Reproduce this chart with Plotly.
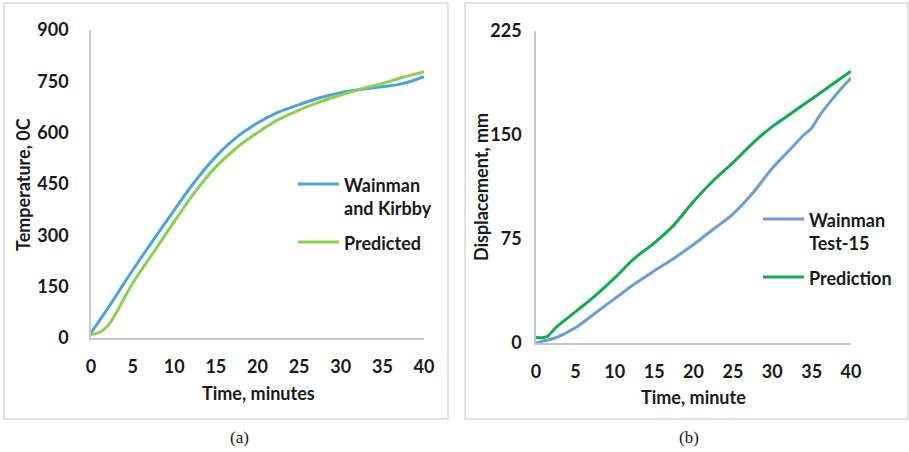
import plotly.graph_objects as go

# Panel (a): furnace/steel temperature history
time_a = [0, 1, 2, 3, 4, 5, 7.5, 10, 12.5, 15, 17.5, 20, 22.5, 25, 27.5, 30, 32.5, 35, 37.5, 40]
temp_wainman = [15, 50, 86, 123, 161, 198, 287, 374, 458, 530, 587, 628, 660, 682, 702, 717, 727, 734, 744, 764]
temp_predicted = [10, 16, 35, 72, 117, 160, 250, 340, 427, 500, 556, 600, 638, 666, 690, 710, 728, 744, 762, 778]

# Panel (b): mid-span displacement history
time_b = [0, 1, 1.5, 2.5, 5, 7.5, 10, 12.5, 15, 17.5, 20, 22.5, 25, 27.5, 30, 32.5, 34, 35, 36, 37.5, 39, 40]
disp_wainman = [0, 1.5, 2.2, 3.8, 11, 21.5, 32, 42.5, 52, 61, 71, 82, 93, 108, 126, 141, 150, 155, 164, 175, 185, 191]
disp_prediction = [4, 4, 5, 11, 22.5, 34, 47, 61, 72, 85, 102, 117, 130, 144, 156, 166, 172, 176, 180, 186, 192, 196]

x_ticks = [0, 5, 10, 15, 20, 25, 30, 35, 40]
y_ticks_a = [0, 150, 300, 450, 600, 750, 900]
y_ticks_b = [0, 75, 150, 225]

W, H = 909, 452
FONT = "Lato"
TEXT = "#1a1a1a"
AXIS_GRAY = "#c8c8c8"
BOLD = dict(family=FONT, size=18, color=TEXT, weight="bold")


def px(x):
    return x / W


def py(y):
    return 1 - y / H


series = [
    # x, y, colour, legend label, axes, legend line y (px), legend x (px)
    (time_a, temp_wainman, "#4BA6D8", "Wainman<br>and Kirbby", ("x", "y"), 184, 298),
    (time_a, temp_predicted, "#8DCF4F", "Predicted", ("x", "y"), 242, 298),
    (time_b, disp_wainman, "#6A9FD6", "Wainman<br>Test-15", ("x2", "y2"), 219, 763),
    (time_b, disp_prediction, "#10AD4E", "Prediction", ("x2", "y2"), 277, 763),
]

fig = go.Figure()
for xs, ys, color, label, (xa, ya), ly, lx in series:
    fig.add_trace(go.Scatter(x=xs, y=ys, mode="lines", line_shape="spline",
                             line=dict(color=color, width=3), name=label,
                             xaxis=xa, yaxis=ya, showlegend=False))
    # legend key: short line sample followed by the series name
    fig.add_shape(type="line", xref="paper", yref="paper",
                  x0=px(lx), x1=px(lx + 41), y0=py(ly), y1=py(ly),
                  line=dict(color=color, width=3))
    fig.add_annotation(text=label, xref="paper", yref="paper",
                       x=px(lx + 44), y=py(ly - 12), xanchor="left", yanchor="top",
                       align="left", showarrow=False, font=BOLD)

common_x = dict(range=[0, 40], tickvals=x_ticks, showgrid=False, zeroline=False,
                showline=True, linecolor=AXIS_GRAY, linewidth=1.5, ticks="",
                tickfont=BOLD, ticklabelstandoff=12, automargin=False, fixedrange=True)
common_y = dict(showgrid=False, zeroline=False, showline=True, linecolor=AXIS_GRAY,
                linewidth=1.5, ticks="", tickfont=BOLD, automargin=False, fixedrange=True)

fig.update_layout(
    width=W, height=H,
    margin=dict(l=0, r=0, t=0, b=0),
    paper_bgcolor="white", plot_bgcolor="white",
    showlegend=False,
    xaxis=dict(domain=[px(91), px(424)], anchor="y", **common_x),
    yaxis=dict(domain=[py(338), py(30)], anchor="x", range=[0, 900], tickvals=y_ticks_a,
               ticklabelstandoff=17, **common_y),
    xaxis2=dict(domain=[px(536), px(851)], anchor="y2", **common_x),
    yaxis2=dict(domain=[py(343), py(31)], anchor="x2", range=[0, 225], tickvals=y_ticks_b,
                ticklabelstandoff=9, **common_y),
)

# Panel frames
for x0, x1 in [(4, 448), (465, 908)]:
    fig.add_shape(type="rect", xref="paper", yref="paper",
                  x0=px(x0), x1=px(x1), y0=py(419), y1=py(3),
                  line=dict(color="#d9d9d9", width=1.5), fillcolor="rgba(0,0,0,0)")

annotations = [
    dict(text="Time, minutes", x=px(258), y=py(393), textangle=0),
    dict(text="Temperature, 0C", x=px(23), y=py(185), textangle=-90),
    dict(text="Time, minute", x=px(693), y=py(397), textangle=0),
    dict(text="Displacement, mm", x=px(481), y=py(187), textangle=-90),
]
for a in annotations:
    fig.add_annotation(xref="paper", yref="paper", showarrow=False,
                       xanchor="center", yanchor="middle", font=BOLD, **a)

for label, x in [("(a)", 240), ("(b)", 689)]:
    fig.add_annotation(text=label, xref="paper", yref="paper", x=px(x), y=py(437),
                       showarrow=False, xanchor="center", yanchor="middle",
                       font=dict(family="Liberation Serif", size=17, color=TEXT))

fig.write_html("out.html")
